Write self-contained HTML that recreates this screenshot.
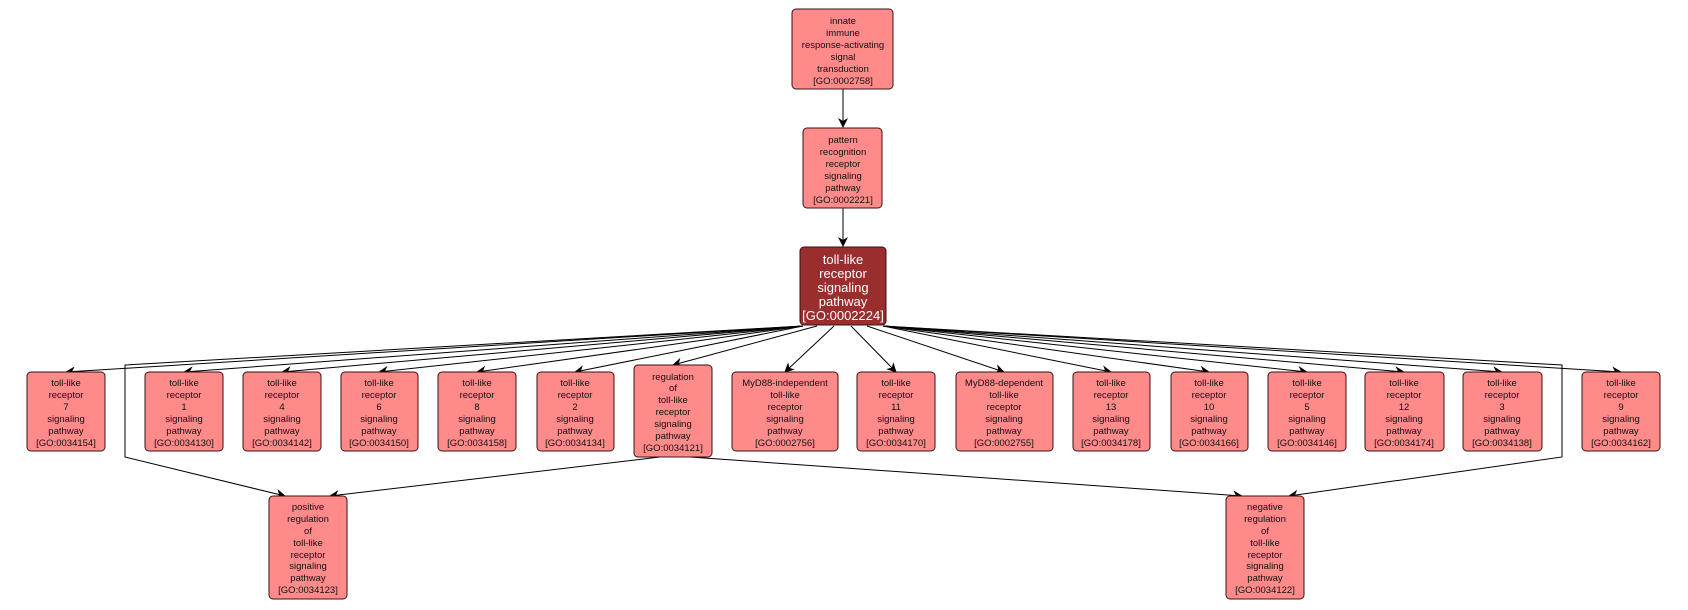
<!DOCTYPE html>
<html><head><meta charset="utf-8"><style>
html,body{margin:0;padding:0;background:#fff;}
svg{display:block;}
text{font-family:"Liberation Sans",sans-serif;font-size:9.5px;fill:#111;text-anchor:middle;}
.m text{fill:#fff;font-size:13px;}
rect.n{fill:#ff8a8a;stroke:#3a1010;stroke-width:1;}
rect.mn{fill:#9a2e2e;stroke:#3a1010;stroke-width:1;}
line,polyline{stroke:#000;stroke-width:1;fill:none;}
</style></head><body>
<svg width="1688" height="610" viewBox="0 0 1688 610" xmlns="http://www.w3.org/2000/svg">
<defs><marker id="a" markerWidth="10" markerHeight="10" refX="9" refY="5" orient="auto" markerUnits="userSpaceOnUse"><path d="M0,0 L10,5 L0,10 L3,5 z" fill="#000"/></marker></defs>
<g>
<line x1="843" y1="89" x2="843" y2="127" marker-end="url(#a)"/>
<line x1="843" y1="208" x2="843" y2="246" marker-end="url(#a)"/>
<line x1="803" y1="326" x2="66" y2="372" marker-end="url(#a)"/>
<line x1="803" y1="326" x2="184" y2="372" marker-end="url(#a)"/>
<line x1="803" y1="326" x2="282" y2="372" marker-end="url(#a)"/>
<line x1="803" y1="326" x2="379" y2="372" marker-end="url(#a)"/>
<line x1="803" y1="326" x2="477" y2="372" marker-end="url(#a)"/>
<line x1="803" y1="326" x2="575" y2="372" marker-end="url(#a)"/>
<line x1="817" y1="326" x2="673" y2="365" marker-end="url(#a)"/>
<line x1="834" y1="326" x2="785" y2="372" marker-end="url(#a)"/>
<line x1="851" y1="326" x2="896" y2="372" marker-end="url(#a)"/>
<line x1="867" y1="326" x2="1004" y2="372" marker-end="url(#a)"/>
<line x1="883" y1="326" x2="1111" y2="372" marker-end="url(#a)"/>
<line x1="883" y1="326" x2="1209" y2="372" marker-end="url(#a)"/>
<line x1="883" y1="326" x2="1307" y2="372" marker-end="url(#a)"/>
<line x1="883" y1="326" x2="1404" y2="372" marker-end="url(#a)"/>
<line x1="883" y1="326" x2="1502" y2="372" marker-end="url(#a)"/>
<line x1="883" y1="326" x2="1621" y2="372" marker-end="url(#a)"/>
<polyline points="803,326 125,365 125,457 285,496" marker-end="url(#a)"/>
<polyline points="883,326 1562,365 1562,457 1289,496" marker-end="url(#a)"/>
<line x1="660" y1="457" x2="330" y2="496" marker-end="url(#a)"/>
<line x1="690" y1="457" x2="1242" y2="496" marker-end="url(#a)"/>
</g>
<!-- top -->
<rect class="n" x="792" y="9" width="101" height="80" rx="4"/>
<text x="843" y="24">innate</text><text x="843" y="36">immune</text><text x="843" y="48">response-activating</text><text x="843" y="60">signal</text><text x="843" y="72">transduction</text><text x="843" y="84">[GO:0002758]</text>
<rect class="n" x="803" y="128" width="79" height="80" rx="4"/>
<text x="843" y="143">pattern</text><text x="843" y="155">recognition</text><text x="843" y="167">receptor</text><text x="843" y="179">signaling</text><text x="843" y="191">pathway</text><text x="843" y="203">[GO:0002221]</text>
<g class="m"><rect class="mn" x="800" y="247" width="86" height="78" rx="4"/>
<text x="843" y="264">toll-like</text><text x="843" y="278">receptor</text><text x="843" y="292">signaling</text><text x="843" y="306">pathway</text><text x="843" y="320">[GO:0002224]</text></g>
<!-- row -->
<rect class="n" x="27" y="372" width="78" height="79" rx="4"/>
<text x="66" y="386">toll-like</text><text x="66" y="398">receptor</text><text x="66" y="410">7</text><text x="66" y="422">signaling</text><text x="66" y="434">pathway</text><text x="66" y="446">[GO:0034154]</text>
<rect class="n" x="145" y="372" width="78" height="79" rx="4"/>
<text x="184" y="386">toll-like</text><text x="184" y="398">receptor</text><text x="184" y="410">1</text><text x="184" y="422">signaling</text><text x="184" y="434">pathway</text><text x="184" y="446">[GO:0034130]</text>
<rect class="n" x="243" y="372" width="78" height="79" rx="4"/>
<text x="282" y="386">toll-like</text><text x="282" y="398">receptor</text><text x="282" y="410">4</text><text x="282" y="422">signaling</text><text x="282" y="434">pathway</text><text x="282" y="446">[GO:0034142]</text>
<rect class="n" x="341" y="372" width="77" height="79" rx="4"/>
<text x="379" y="386">toll-like</text><text x="379" y="398">receptor</text><text x="379" y="410">6</text><text x="379" y="422">signaling</text><text x="379" y="434">pathway</text><text x="379" y="446">[GO:0034150]</text>
<rect class="n" x="438" y="372" width="78" height="79" rx="4"/>
<text x="477" y="386">toll-like</text><text x="477" y="398">receptor</text><text x="477" y="410">8</text><text x="477" y="422">signaling</text><text x="477" y="434">pathway</text><text x="477" y="446">[GO:0034158]</text>
<rect class="n" x="537" y="372" width="77" height="79" rx="4"/>
<text x="575" y="386">toll-like</text><text x="575" y="398">receptor</text><text x="575" y="410">2</text><text x="575" y="422">signaling</text><text x="575" y="434">pathway</text><text x="575" y="446">[GO:0034134]</text>
<rect class="n" x="634" y="365" width="78" height="92" rx="4"/>
<text x="673" y="380">regulation</text><text x="673" y="391">of</text><text x="673" y="403">toll-like</text><text x="673" y="415">receptor</text><text x="673" y="427">signaling</text><text x="673" y="439">pathway</text><text x="673" y="451">[GO:0034121]</text>
<rect class="n" x="732" y="372" width="106" height="79" rx="4"/>
<text x="785" y="386">MyD88-independent</text><text x="785" y="398">toll-like</text><text x="785" y="410">receptor</text><text x="785" y="422">signaling</text><text x="785" y="434">pathway</text><text x="785" y="446">[GO:0002756]</text>
<rect class="n" x="857" y="372" width="78" height="79" rx="4"/>
<text x="896" y="386">toll-like</text><text x="896" y="398">receptor</text><text x="896" y="410">11</text><text x="896" y="422">signaling</text><text x="896" y="434">pathway</text><text x="896" y="446">[GO:0034170]</text>
<rect class="n" x="956" y="372" width="97" height="79" rx="4"/>
<text x="1004" y="386">MyD88-dependent</text><text x="1004" y="398">toll-like</text><text x="1004" y="410">receptor</text><text x="1004" y="422">signaling</text><text x="1004" y="434">pathway</text><text x="1004" y="446">[GO:0002755]</text>
<rect class="n" x="1073" y="372" width="77" height="79" rx="4"/>
<text x="1111" y="386">toll-like</text><text x="1111" y="398">receptor</text><text x="1111" y="410">13</text><text x="1111" y="422">signaling</text><text x="1111" y="434">pathway</text><text x="1111" y="446">[GO:0034178]</text>
<rect class="n" x="1171" y="372" width="77" height="79" rx="4"/>
<text x="1209" y="386">toll-like</text><text x="1209" y="398">receptor</text><text x="1209" y="410">10</text><text x="1209" y="422">signaling</text><text x="1209" y="434">pathway</text><text x="1209" y="446">[GO:0034166]</text>
<rect class="n" x="1268" y="372" width="78" height="79" rx="4"/>
<text x="1307" y="386">toll-like</text><text x="1307" y="398">receptor</text><text x="1307" y="410">5</text><text x="1307" y="422">signaling</text><text x="1307" y="434">pathway</text><text x="1307" y="446">[GO:0034146]</text>
<rect class="n" x="1365" y="372" width="79" height="79" rx="4"/>
<text x="1404" y="386">toll-like</text><text x="1404" y="398">receptor</text><text x="1404" y="410">12</text><text x="1404" y="422">signaling</text><text x="1404" y="434">pathway</text><text x="1404" y="446">[GO:0034174]</text>
<rect class="n" x="1463" y="372" width="79" height="79" rx="4"/>
<text x="1502" y="386">toll-like</text><text x="1502" y="398">receptor</text><text x="1502" y="410">3</text><text x="1502" y="422">signaling</text><text x="1502" y="434">pathway</text><text x="1502" y="446">[GO:0034138]</text>
<rect class="n" x="1582" y="372" width="78" height="79" rx="4"/>
<text x="1621" y="386">toll-like</text><text x="1621" y="398">receptor</text><text x="1621" y="410">9</text><text x="1621" y="422">signaling</text><text x="1621" y="434">pathway</text><text x="1621" y="446">[GO:0034162]</text>
<!-- bottom -->
<rect class="n" x="269" y="496" width="78" height="103" rx="4"/>
<text x="308" y="510">positive</text><text x="308" y="522">regulation</text><text x="308" y="534">of</text><text x="308" y="546">toll-like</text><text x="308" y="558">receptor</text><text x="308" y="569">signaling</text><text x="308" y="581">pathway</text><text x="308" y="593">[GO:0034123]</text>
<rect class="n" x="1226" y="496" width="78" height="103" rx="4"/>
<text x="1265" y="510">negative</text><text x="1265" y="522">regulation</text><text x="1265" y="534">of</text><text x="1265" y="546">toll-like</text><text x="1265" y="558">receptor</text><text x="1265" y="569">signaling</text><text x="1265" y="581">pathway</text><text x="1265" y="593">[GO:0034122]</text>
</svg>
</body></html>
